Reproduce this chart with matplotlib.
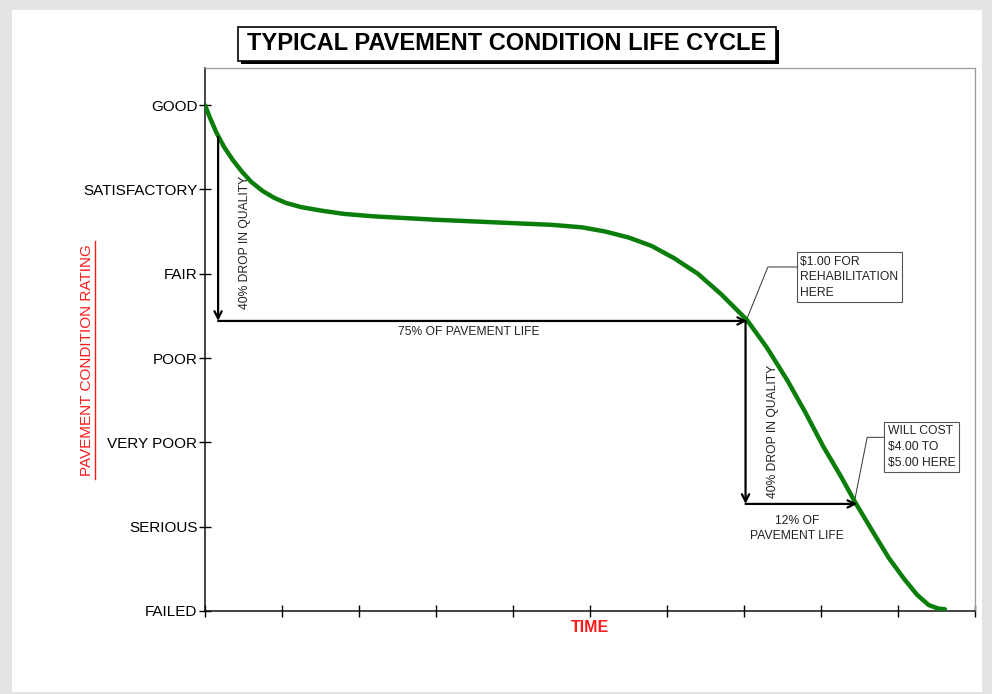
import matplotlib.pyplot as plt
import matplotlib.patches as mpatches
import matplotlib.lines as mlines

# condition scale, bottom to top
conditions = ['FAILED', 'SERIOUS', 'VERY POOR', 'POOR', 'FAIR', 'SATISFACTORY', 'GOOD']
time_ticks = [0, 1, 2, 3, 4, 5, 6, 7, 8, 9, 10]

# life cycle curve
curve_t = [0.0, 0.06, 0.15, 0.25, 0.36, 0.48, 0.60, 0.75, 0.90, 1.05, 1.25, 1.50, 1.80,
           2.20, 2.60, 3.00, 3.50, 4.00, 4.50, 4.90, 5.20, 5.50, 5.80, 6.10, 6.40, 6.70,
           7.04, 7.30, 7.56, 7.80, 8.03, 8.25, 8.45, 8.66, 8.88, 9.08, 9.25, 9.40, 9.52, 9.61]
curve_q = [6.00, 5.86, 5.67, 5.50, 5.35, 5.21, 5.09, 4.98, 4.90, 4.84, 4.79, 4.75, 4.71,
           4.68, 4.66, 4.64, 4.62, 4.60, 4.58, 4.55, 4.50, 4.43, 4.33, 4.18, 4.00, 3.76,
           3.45, 3.12, 2.74, 2.35, 1.95, 1.61, 1.28, 0.96, 0.63, 0.38, 0.19, 0.07, 0.03, 0.02]

# first drop: 75% of life
drop1_t = [0.17, 7.04]
drop1_q = [5.62, 3.44]
# second drop: 12% of life
drop2_t = [7.02, 8.47]
drop2_q = [3.44, 1.27]

note1 = '$1.00 FOR\nREHABILITATION\nHERE'
note2 = 'WILL COST\n$4.00 TO\n$5.00 HERE'

plt.rcParams['font.family'] = ['Liberation Sans', 'DejaVu Sans']

fig = plt.figure(figsize=(9.92, 6.94), dpi=100, facecolor='#e3e5e2')
# white page behind the chart
fig.patches.append(mpatches.Rectangle((12 / 992, 1 - 692 / 694), 970 / 992, 682 / 694,
                                      transform=fig.transFigure, facecolor='white',
                                      edgecolor='none', zorder=-1))

ax = fig.add_axes([205 / 992, 1 - 611 / 694, 770 / 992, 543 / 694])
ax.set_zorder(1)
ax.set_facecolor('white')
ax.set_xlim(0, 10)
ax.set_ylim(0, 6.44)

ax.plot(curve_t, curve_q, color='#0a7d0a', lw=3.2, solid_capstyle='round',
        solid_joinstyle='round', zorder=3)

arrow_kw = dict(arrowstyle='->', color='black', lw=1.6, mutation_scale=13,
                shrinkA=0, shrinkB=0)
ax.annotate('', xy=(drop1_t[0], drop1_q[1]), xytext=(drop1_t[0], drop1_q[0]), arrowprops=arrow_kw)
ax.annotate('', xy=(drop1_t[1], drop1_q[1]), xytext=(drop1_t[0], drop1_q[1]), arrowprops=arrow_kw)
ax.annotate('', xy=(drop2_t[0], drop2_q[1]), xytext=(drop2_t[0], drop2_q[0]), arrowprops=arrow_kw)
ax.annotate('', xy=(drop2_t[1], drop2_q[1]), xytext=(drop2_t[0], drop2_q[1]), arrowprops=arrow_kw)

small = dict(fontsize=8.7, color='#222222')
ax.text(0.52, 4.37, '40% DROP IN QUALITY', rotation=90, ha='center', va='center', **small)
ax.text(3.43, 3.38, '75% OF PAVEMENT LIFE', ha='center', va='top', **small)
ax.text(7.38, 2.13, '40% DROP IN QUALITY', rotation=90, ha='center', va='center', **small)
ax.text(7.69, 1.14, '12% OF\nPAVEMENT LIFE', ha='center', va='top', linespacing=1.4, **small)

# call-out boxes with leader lines
box = dict(boxstyle='square,pad=0.3', facecolor='white', edgecolor='#555555', lw=0.8)
ax.text(7.73, 3.96, note1, ha='left', va='center', linespacing=1.4, bbox=box, **small)
ax.plot([7.04, 7.31, 7.69], [3.47, 4.08, 4.08], color='#333333', lw=0.7)
ax.text(8.87, 1.945, note2, ha='left', va='center', linespacing=1.4, bbox=box, **small)
ax.plot([8.43, 8.60, 8.83], [1.28, 2.06, 2.06], color='#333333', lw=0.7)

ax.set_yticks(range(len(conditions)))
ax.set_yticklabels(conditions, fontsize=11, color='#111111')
ax.set_xticks(time_ticks)
ax.set_xticklabels([])
ax.tick_params(direction='inout', length=9, width=1, colors='black')
ax.tick_params(axis='y', pad=1)
for s in ['left', 'bottom']:
    ax.spines[s].set_color('#111111')
    ax.spines[s].set_linewidth(1.1)
for s in ['top', 'right']:
    ax.spines[s].set_color('#9a9a9a')
    ax.spines[s].set_linewidth(0.9)

# axis titles
fig.text(590 / 992, 1 - 627 / 694, 'TIME', color='#ff1a1a', fontsize=11.5, fontweight='bold',
         ha='center', va='center')
fig.text(87 / 992, 1 - 360 / 694, 'PAVEMENT CONDITION RATING', color='#ff1a1a', fontsize=11,
         rotation=90, ha='center', va='center')
fig.lines.append(mlines.Line2D([94.5 / 992, 94.5 / 992], [1 - 479 / 694, 1 - 241 / 694],
                               transform=fig.transFigure, color='#ff1a1a', lw=1))

# boxed title with drop shadow
fig.patches.append(mpatches.Rectangle((241 / 992, 1 - 64 / 694), 538 / 992, 34 / 694,
                                      transform=fig.transFigure, facecolor='black',
                                      edgecolor='none', zorder=1))
fig.patches.append(mpatches.Rectangle((238 / 992, 1 - 61 / 694), 538 / 992, 34 / 694,
                                      transform=fig.transFigure, facecolor='white',
                                      edgecolor='black', lw=1.2, zorder=2))
fig.text(507 / 992, 1 - 44 / 694, 'TYPICAL PAVEMENT CONDITION LIFE CYCLE', fontsize=17,
         fontweight='bold', ha='center', va='center', zorder=3)

fig.savefig('out.png', dpi=100, facecolor=fig.get_facecolor())
